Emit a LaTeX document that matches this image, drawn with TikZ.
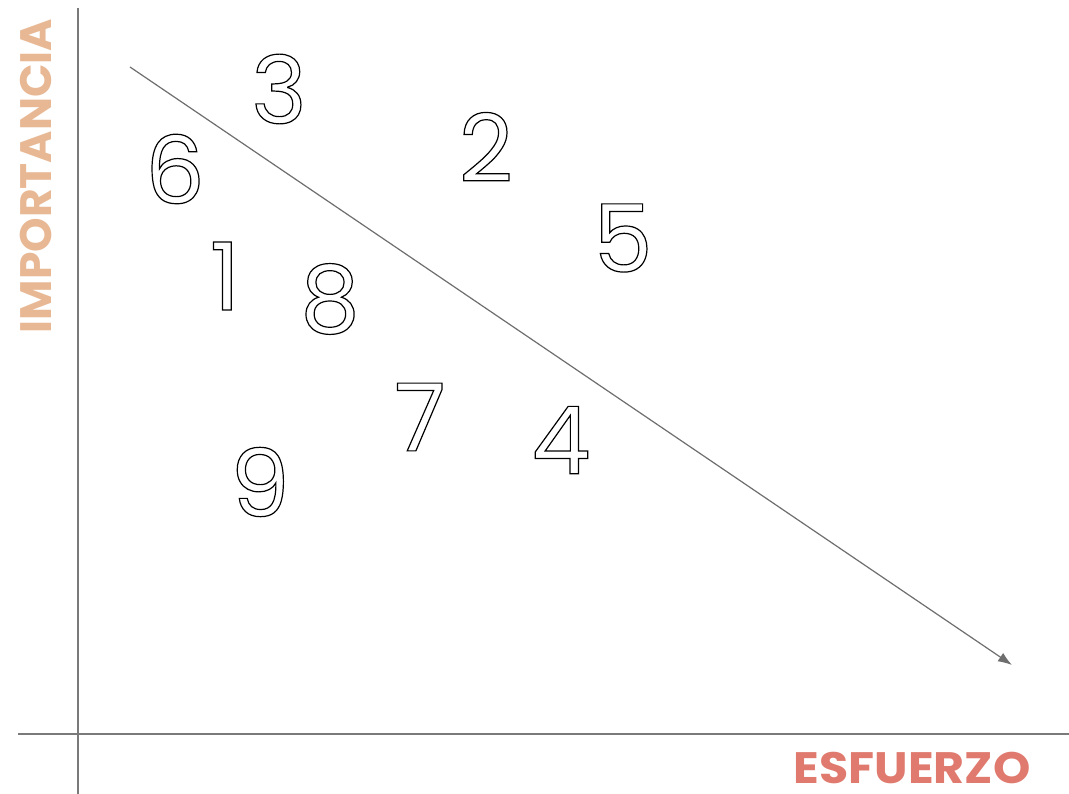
\documentclass[tikz,border=0pt]{standalone}
\usepackage{fontspec}
\usetikzlibrary{arrows.meta}
\setmainfont{Poppins}
\newfontfamily\digfont{Poppins}
\definecolor{axisgray}{HTML}{7A7A7A}
\definecolor{arrowgray}{HTML}{6E6E6E}
\definecolor{tan}{HTML}{E8B894}
\definecolor{salmon}{HTML}{E07A6E}
\newcommand\outlined[1]{\special{pdf:literal direct 1 Tr 1.2 w}#1\special{pdf:literal direct 0 Tr}}
\begin{document}
\begin{tikzpicture}[x=1pt,y=-1pt,
  axis/.style={draw=axisgray,line width=2pt},
  trend/.style={draw=arrowgray,line width=1.2pt,-{Latex[length=14pt,width=10pt]}},
  digit/.style={inner sep=0pt,font=\digfont\fontsize{94}{94}\selectfont},
  lbl/.style={inner sep=0pt,font=\bfseries\fontsize{44}{44}\selectfont}]
\useasboundingbox[fill=white] (0,0) rectangle (1069,794);
\coordinate (vtop) at (78,8);
\coordinate (vbot) at (78,794);
\coordinate (hleft) at (18,734);
\coordinate (hright) at (1069,734);
\draw[axis] (vtop) -- (vbot);
\draw[axis] (hleft) -- (hright);
\coordinate (astart) at (130,67);
\coordinate (aend) at (1012,665);
\draw[trend] (astart) -- (aend);
\node[digit] (d3) at (279,89) {\outlined{3}};
\node[digit] (d6) at (175,169) {\outlined{6}};
\node[digit] (d2) at (486,147) {\outlined{2}};
\node[digit] (d5) at (623,238) {\outlined{5}};
\node[digit] (d1) at (225,276) {\outlined{1}};
\node[digit] (d8) at (330,299) {\outlined{8}};
\node[digit] (d7) at (420,417) {\outlined{7}};
\node[digit] (d4) at (561,440) {\outlined{4}};
\node[digit] (d9) at (260,482) {\outlined{9}};
\node[lbl,text=tan,rotate=90] (imp) at (36,176) {IMPORTANCIA};
\node[lbl,text=salmon,xscale=1.08] (esf) at (912,768) {ESFUERZO};
\end{tikzpicture}
\end{document}
